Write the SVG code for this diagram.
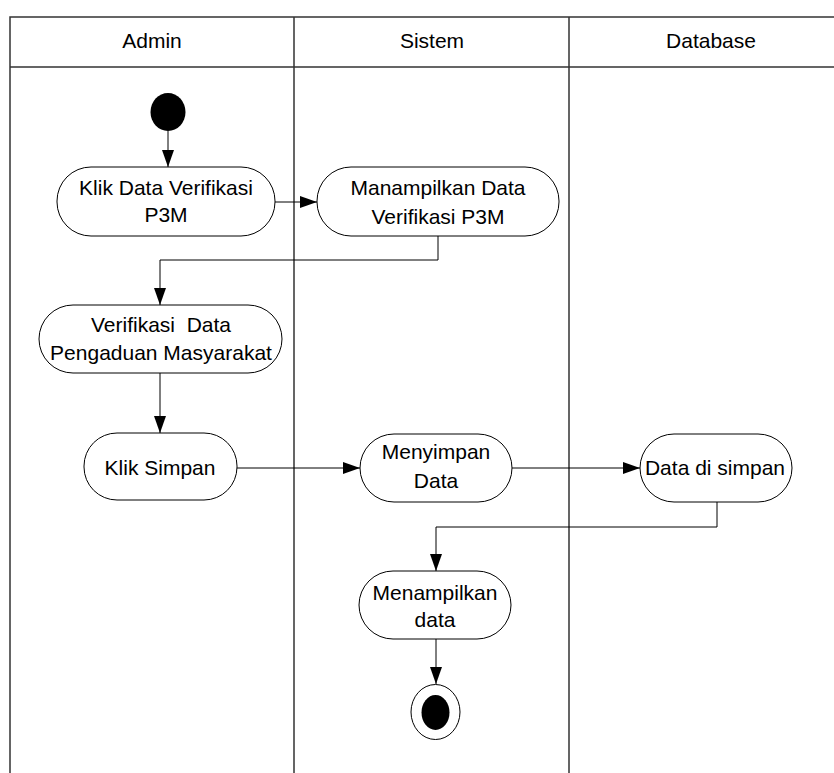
<svg xmlns="http://www.w3.org/2000/svg" width="834" height="773" viewBox="0 0 834 773">
<style>
.frame{fill:none;stroke:#333;stroke-width:1.5}
.node rect{fill:#fff;stroke:#000;stroke-width:1}
text{font-family:"Liberation Sans",Arial,sans-serif;font-size:21px;fill:#000;text-anchor:middle}
.hd{font-size:21px}
.conn path{fill:none;stroke:#000;stroke-width:1;marker-end:url(#ah)}
</style>
<defs>
<marker id="ah" markerUnits="userSpaceOnUse" markerWidth="17" markerHeight="12" refX="17" refY="6" orient="auto">
<path d="M0,0 L17,6 L0,12 z" fill="#000"/>
</marker>
</defs>
<rect width="834" height="773" fill="#fff"/>
<g id="lanes">
<path class="frame" d="M10,773 V17 H860 M10,67 H860 M294,17 V773 M569,17 V773"/>
<text class="hd" x="152" y="48">Admin</text>
<text class="hd" x="432" y="48">Sistem</text>
<text class="hd" x="711" y="48">Database</text>
</g>
<g id="start"><ellipse cx="168" cy="112" rx="17.5" ry="19" fill="#000"/></g>
<g id="n1" class="node"><rect x="57" y="167" width="218" height="69" rx="34" ry="34"/><text x="166" y="195">Klik Data Verifikasi</text><text x="166" y="222">P3M</text></g>
<g id="n2" class="node"><rect x="317" y="167" width="242" height="69" rx="34" ry="34"/><text x="438" y="195">Manampilkan Data</text><text x="438" y="224">Verifikasi P3M</text></g>
<g id="n3" class="node"><rect x="39" y="305" width="243" height="68" rx="34" ry="34"/><text x="161" y="332" xml:space="preserve">Verifikasi  Data</text><text x="161" y="360">Pengaduan Masyarakat</text></g>
<g id="n4" class="node"><rect x="84" y="433" width="153" height="67" rx="33" ry="33"/><text x="160" y="475">Klik Simpan</text></g>
<g id="n5" class="node"><rect x="360" y="434" width="152" height="68" rx="34" ry="34"/><text x="436" y="459">Menyimpan</text><text x="436" y="488">Data</text></g>
<g id="n6" class="node"><rect x="640" y="434" width="152" height="68" rx="34" ry="34"/><text x="715" y="475">Data di simpan</text></g>
<g id="n7" class="node"><rect x="359" y="571" width="152" height="68" rx="34" ry="34"/><text x="435" y="600">Menampilkan</text><text x="435" y="627">data</text></g>
<g id="end"><ellipse cx="435.5" cy="712" rx="24.5" ry="27.5" fill="#fff" stroke="#000" stroke-width="1"/><ellipse cx="435.5" cy="712.5" rx="14" ry="17.5" fill="#000"/></g>
<g id="connectors" class="conn">
<path d="M168,131 V167"/>
<path d="M275,202 H317"/>
<path d="M438,236 V260 H160 V305"/>
<path d="M160,373 V433"/>
<path d="M237,468 H360"/>
<path d="M512,468 H640"/>
<path d="M717,502 V527 H436 V571"/>
<path d="M436,639 V684"/>
</g>
</svg>
